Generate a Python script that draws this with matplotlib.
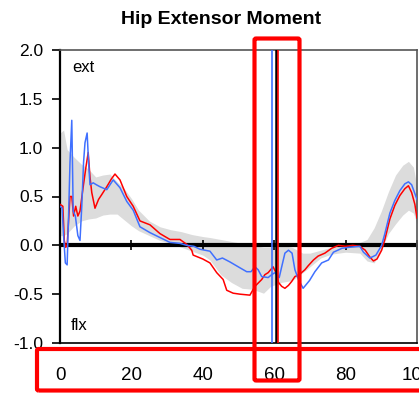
import numpy as np
import matplotlib
matplotlib.use("Agg")
import matplotlib.pyplot as plt
from matplotlib.patches import FancyBboxPatch

plt.rcParams['font.family'] = ['Liberation Sans', 'DejaVu Sans']
plt.rcParams['axes.unicode_minus'] = False

# % gait cycle vs moment (Nm/kg)
blue_x = [0, 0.6, 1.0, 1.5, 2.0, 2.4, 2.8, 3.3, 3.7, 4.3, 5.0, 5.6, 6.1, 6.6, 7.0, 7.6, 8.0, 8.4,
          9.3, 10.2, 11.2, 13.1, 14.9, 16.8, 18.7, 20.5, 22.4, 25.2, 28, 30.8, 33.6, 35.5, 37.5,
          39.2, 42, 43.9, 45.5, 47.6, 50.4, 52.3, 53.5, 54.6, 55.5, 56.5, 58.3, 59.3, 60.2, 60.7,
          61.4, 62.1, 63, 64, 65, 65.8, 66.8, 68.1, 69.9, 71.4, 73.3, 75.2, 76.6, 79, 81, 84, 85,
          86.8, 88.5, 90.1, 91, 92.4, 93.8, 95.2, 96.6, 97.6, 98.5, 99.4, 100]
blue_y = [0.40, 0.38, 0.10, -0.18, -0.20, 0.30, 0.85, 1.28, 0.35, 0.30, 0.10, 0.05, 0.40, 0.85,
          1.05, 1.15, 0.85, 0.62, 0.64, 0.62, 0.60, 0.57, 0.67, 0.59, 0.45, 0.36, 0.19, 0.13, 0.08,
          0.03, 0.02, 0.00, -0.01, -0.04, -0.06, -0.15, -0.13, -0.17, -0.23, -0.27, -0.27, -0.22,
          -0.25, -0.32, -0.33, -0.30, -0.28, -0.30, -0.33, -0.22, -0.08, -0.05, -0.08, -0.25, -0.35,
          -0.44, -0.36, -0.27, -0.18, -0.15, -0.07, -0.03, -0.02, -0.01, -0.07, -0.13, -0.10, 0.00,
          0.12, 0.33, 0.46, 0.56, 0.63, 0.65, 0.62, 0.53, 0.47]

red_x = [0, 0.8, 1.2, 1.6, 2.0, 2.8, 3.3, 3.8, 4.4, 5.0, 5.6, 6.5, 7.3, 7.9, 8.4, 8.9, 9.8, 10.8,
         11.7, 13.1, 14.4, 15.4, 16.8, 18.7, 20.5, 22.4, 25.2, 28, 30.8, 33.6, 35.5, 36.9, 37.3, 40,
         42, 43.9, 45.7, 46.7, 48.5, 50.4, 53.2, 54.6, 56.5, 57.4, 58.3, 59.7, 60.5, 61.2, 62.1, 63,
         64, 64.9, 65.8, 67, 68.6, 69.5, 71, 72.3, 74.2, 76.1, 78, 80, 82, 84, 85.5, 86.8, 87.8,
         88.8, 90.1, 91, 92.4, 93.8, 95.2, 96.6, 97.6, 98.5, 99.4, 100]
red_y = [0.42, 0.40, 0.05, -0.02, 0.00, 0.50, 0.50, 0.30, 0.40, 0.30, 0.35, 0.60, 0.81, 0.95, 0.70,
         0.54, 0.38, 0.47, 0.52, 0.60, 0.68, 0.73, 0.67, 0.50, 0.40, 0.25, 0.21, 0.12, 0.06, 0.06,
         0.01, -0.05, -0.10, -0.14, -0.18, -0.28, -0.35, -0.46, -0.49, -0.50, -0.51, -0.42, -0.35,
         -0.30, -0.28, -0.22, -0.28, -0.38, -0.42, -0.44, -0.41, -0.37, -0.32, -0.30, -0.25, -0.21,
         -0.15, -0.11, -0.08, -0.03, 0.00, -0.01, 0.00, -0.01, -0.05, -0.12, -0.16, -0.14, -0.05,
         0.06, 0.27, 0.41, 0.51, 0.58, 0.61, 0.54, 0.42, 0.28]

# normal band (mean +/- 1 SD)
band_x = [0, 1, 2, 4, 6, 8, 10, 12, 14, 16, 18, 20, 22, 25, 28, 31, 34, 37, 40, 42, 45, 48, 51,
          54, 57, 59, 62, 65, 68, 70, 73, 76, 80, 84, 86, 88, 90, 92, 94, 96, 97.6, 99, 100]
band_hi = [1.15, 1.18, 0.98, 0.90, 0.83, 0.78, 0.70, 0.72, 0.73, 0.65, 0.58, 0.48, 0.36, 0.25,
           0.19, 0.16, 0.14, 0.11, 0.09, 0.08, 0.06, 0.04, 0.02, 0.00, -0.02, -0.02, 0.00, -0.02,
           -0.08, -0.08, -0.05, -0.02, 0.02, 0.03, 0.06, 0.18, 0.35, 0.55, 0.72, 0.82, 0.86, 0.80,
           0.60]
band_lo = [0.10, 0.10, 0.12, 0.20, 0.25, 0.27, 0.28, 0.31, 0.32, 0.32, 0.26, 0.20, 0.15, 0.10,
           0.05, 0.02, -0.02, -0.06, -0.10, -0.15, -0.30, -0.38, -0.44, -0.45, -0.49, -0.42, -0.38,
           -0.36, -0.28, -0.22, -0.13, -0.09, -0.07, -0.08, -0.16, -0.18, -0.04, 0.12, 0.22, 0.31,
           0.36, 0.33, 0.22]

toe_off_blue = 59.5
toe_off_norm = 60.4
toe_off_red = 61.0

xticks = [0, 20, 40, 60, 80, 100]
yticks = [-1.0, -0.5, 0.0, 0.5, 1.0, 1.5, 2.0]

fig = plt.figure(figsize=(4.19, 3.94), dpi=100)
ax = fig.add_axes([60 / 419, 51 / 394, 357 / 419, 293 / 394])

ax.fill_between(band_x, band_lo, band_hi, color='#dcdcdc', lw=0, zorder=1)
ax.axhline(0, color='black', lw=3, zorder=2)
ax.vlines(xticks, -0.05, 0.05, color='black', lw=1.2, zorder=2, clip_on=False)

ax.plot(red_x, red_y, color='#ff0000', lw=1.1, zorder=3)
ax.plot(blue_x, blue_y, color='#4070ff', lw=1.1, zorder=3)

ax.axvline(toe_off_blue, color='#4070ff', lw=1.2, zorder=4)
ax.axvline(toe_off_norm, color='black', lw=1.8, zorder=4)
ax.axvline(toe_off_red, color='#ff0000', lw=1.2, zorder=4)

ax.set_xlim(0, 100)
ax.set_ylim(-1, 2)
ax.set_xticks(xticks)
ax.set_yticks(yticks)
ax.set_yticklabels(['%.1f' % v for v in yticks])
ax.tick_params(axis='x', length=0, pad=17, labelsize=13.5)
ax.tick_params(axis='y', length=6, width=1.2, pad=6, labelsize=12.5, direction='out')

ax.spines['left'].set_color('black')
ax.spines['left'].set_linewidth(1.6)
ax.spines['bottom'].set_color('black')
ax.spines['bottom'].set_linewidth(1.2)
for s in ['top', 'right']:
    ax.spines[s].set_color('#555555')
    ax.spines[s].set_linewidth(1.2)

ax.text(3.4, 1.77, 'ext', fontsize=12, va='baseline')
ax.text(3.0, -0.87, 'flx', fontsize=12, va='baseline')

fig.text(221.5 / 419, 1 - 20 / 394, 'Hip Extensor Moment', fontsize=14, fontweight='bold',
         ha='center', va='center')

# highlight boxes (pixel coords -> figure fraction)
def box(x0, y0, x1, y1):
    W, H = 419, 394
    p = FancyBboxPatch((x0 / W, 1 - y1 / H), (x1 - x0) / W, (y1 - y0) / H,
                       boxstyle='round,pad=0,rounding_size=0.004',
                       transform=fig.transFigure, fill=False, edgecolor='#ff0000',
                       lw=3, clip_on=False, zorder=10)
    fig.add_artist(p)

box(254.5, 38.5, 299.5, 380.5)
box(37, 349, 430, 390.5)

fig.savefig('out.png', dpi=100)
